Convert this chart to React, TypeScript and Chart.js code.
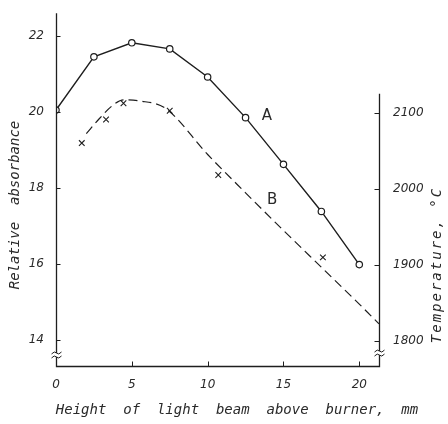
import React, { useEffect, useRef } from "react";
import { Chart, registerables } from "chart.js";

Chart.register(...registerables);

// ---- data ----
const heightA = [0, 2.5, 5, 7.5, 10, 12.5, 15, 17.5, 20];
const absorbanceA = [20.05, 21.45, 21.82, 21.66, 20.92, 19.85, 18.62, 17.38, 15.98];

const heightBMarks = [1.7, 3.3, 4.45, 7.5, 10.7, 17.6];
const absorbanceBMarks = [19.18, 19.8, 20.23, 20.03, 18.34, 16.17];

const heightBCurve = [2.0, 2.85, 3.7, 4.45, 5.5, 7.2, 10, 12.5, 15, 17.5, 20, 21.3];
const absorbanceBCurve = [19.43, 19.82, 20.16, 20.32, 20.29, 20.1, 18.88, 17.87, 16.88, 15.91, 14.94, 14.42];

const xTicks = [0, 5, 10, 15, 20];
const leftTicks = [14, 16, 18, 20, 22];
const rightTicks = [1800, 1900, 2000, 2100];

const curveLabels = ["A", "B"];
const curveLabelX = [13.9, 14.25];
const curveLabelY = [19.9, 17.67];

const X_MIN = 0;
const X_MAX = 21.3;
const Y_MIN = 13.31;
const Y_MAX = 22.6;
const T_MIN = 1767;
const T_MAX = 2231;
const T_AXIS_TOP = 2125;
const Y_BREAK = 13.6;
const T_BREAK = 1784;

const INK = "#1e1e1e";
const TEXT = "#2a2a2a";

const decor = {
  id: "decor",
  afterDraw(chart: any) {
    const ctx = chart.ctx as CanvasRenderingContext2D;
    const xs = chart.scales.x;
    const ys = chart.scales.y;
    const ts = chart.scales.yR;
    const xl = Math.round(xs.getPixelForValue(X_MIN)) + 0.5;
    const xr = Math.round(xs.getPixelForValue(X_MAX)) + 0.5;
    const yb = Math.round(ys.getPixelForValue(Y_MIN)) + 0.5;
    const yt = ys.getPixelForValue(Y_MAX);
    const rt = ts.getPixelForValue(T_AXIS_TOP);

    ctx.save();
    ctx.strokeStyle = INK;
    ctx.lineWidth = 1.3;
    ctx.beginPath();
    ctx.moveTo(xl, yt);
    ctx.lineTo(xl, yb);
    ctx.lineTo(xr, yb);
    ctx.lineTo(xr, rt);
    ctx.stroke();

    // tick marks (inward)
    ctx.lineWidth = 1;
    ctx.beginPath();
    for (const v of leftTicks) {
      const p = Math.round(ys.getPixelForValue(v)) + 0.5;
      ctx.moveTo(xl, p);
      ctx.lineTo(xl + 4, p);
    }
    for (const v of xTicks) {
      if (v === 0) continue;
      const p = Math.round(xs.getPixelForValue(v)) + 0.5;
      ctx.moveTo(p, yb);
      ctx.lineTo(p, yb - 5);
    }
    for (const v of rightTicks) {
      const p = Math.round(ts.getPixelForValue(v)) + 0.5;
      ctx.moveTo(xr, p);
      ctx.lineTo(xr - 5, p);
    }
    ctx.stroke();

    // axis break marks
    const breakMark = (cx: number, cy: number) => {
      ctx.fillStyle = "#ffffff";
      ctx.fillRect(cx - 2, cy - 2, 4, 4);
      ctx.strokeStyle = INK;
      ctx.lineWidth = 1;
      for (const dy of [-2, 2]) {
        ctx.beginPath();
        ctx.moveTo(cx - 5, cy + dy + 1);
        ctx.quadraticCurveTo(cx - 2, cy + dy - 2.5, cx, cy + dy);
        ctx.quadraticCurveTo(cx + 2, cy + dy + 2.5, cx + 5, cy + dy - 1);
        ctx.stroke();
      }
    };
    breakMark(xl, ys.getPixelForValue(Y_BREAK));
    breakMark(xr, ts.getPixelForValue(T_BREAK));

    // curve labels
    ctx.fillStyle = TEXT;
    ctx.font = "15px 'DejaVu Sans'";
    ctx.textAlign = "center";
    ctx.textBaseline = "middle";
    curveLabels.forEach((t, i) => {
      ctx.fillText(t, xs.getPixelForValue(curveLabelX[i]), ys.getPixelForValue(curveLabelY[i]));
    });

    // axis titles
    ctx.font = "italic 14px 'DejaVu Sans Mono'";
    ctx.fillText("Height  of  light  beam  above  burner,  mm", 237, 410);

    ctx.save();
    ctx.translate(15, 205);
    ctx.rotate(-Math.PI / 2);
    ctx.fillText("Relative  absorbance", 0, 0);
    ctx.restore();

    ctx.save();
    (ctx as any).letterSpacing = "2px";
    ctx.translate(437, 265);
    ctx.rotate(-Math.PI / 2);
    ctx.fillText("Temperature, \u00B0C", 0, 0);
    ctx.restore();

    ctx.restore();
  },
};

const tickFont = { family: "'DejaVu Sans'", size: 12, style: "italic" as const };

export default function App() {
  const ref = useRef<HTMLCanvasElement>(null);

  useEffect(() => {
    if (!ref.current) return;
    const chart = new Chart(ref.current, {
      type: "line",
      data: {
        datasets: [
          {
            label: "A",
            data: heightA.map((x, i) => ({ x, y: absorbanceA[i] })),
            borderColor: INK,
            borderWidth: 1.4,
            pointStyle: "circle",
            pointRadius: 3.2,
            pointBackgroundColor: "#ffffff",
            pointBorderColor: INK,
            pointBorderWidth: 1.2,
            tension: 0,
            yAxisID: "y",
          },
          {
            label: "B curve",
            data: heightBCurve.map((x, i) => ({ x, y: absorbanceBCurve[i] })),
            borderColor: INK,
            borderWidth: 1.2,
            borderDash: [9, 5],
            pointRadius: 0,
            cubicInterpolationMode: "monotone",
            yAxisID: "y",
          },
          {
            label: "B",
            data: heightBMarks.map((x, i) => ({ x, y: absorbanceBMarks[i] })),
            showLine: false,
            pointStyle: "crossRot",
            pointRadius: 4,
            pointBorderColor: INK,
            pointBorderWidth: 1.1,
            yAxisID: "y",
          },
        ],
      },
      options: {
        animation: false,
        responsive: false,
        layout: { padding: { top: 12, left: 0, right: 0, bottom: 0 } },
        plugins: { legend: { display: false }, tooltip: { enabled: false } },
        scales: {
          x: {
            type: "linear",
            position: "bottom",
            min: X_MIN,
            max: X_MAX,
            grid: { display: false },
            border: { display: false },
            afterBuildTicks: (s: any) => {
              s.ticks = xTicks.map((v) => ({ value: v }));
            },
            ticks: { font: tickFont, color: TEXT, padding: 4, maxRotation: 0, callback: (v: any) => String(v) },
            afterFit: (s: any) => {
              s.height = 58;
            },
          },
          y: {
            type: "linear",
            position: "left",
            min: Y_MIN,
            max: Y_MAX,
            grid: { display: false },
            border: { display: false },
            afterBuildTicks: (s: any) => {
              s.ticks = leftTicks.map((v) => ({ value: v }));
            },
            ticks: { font: tickFont, color: TEXT, padding: 4, callback: (v: any) => String(v) },
            afterFit: (s: any) => {
              s.width = 56;
            },
          },
          yR: {
            type: "linear",
            axis: "y",
            position: "right",
            min: T_MIN,
            max: T_MAX,
            grid: { display: false },
            border: { display: false },
            afterBuildTicks: (s: any) => {
              s.ticks = rightTicks.map((v) => ({ value: v }));
            },
            ticks: { font: tickFont, color: TEXT, padding: 6, callback: (v: any) => String(v) },
            afterFit: (s: any) => {
              s.width = 69;
            },
          },
        },
      },
      plugins: [decor],
    } as any);
    return () => chart.destroy();
  }, []);

  return (
    <div style={{ position: "fixed", left: 0, top: 0, width: 448, height: 424, background: "#fff" }}>
      <canvas ref={ref} width={448} height={424} />
    </div>
  );
}
